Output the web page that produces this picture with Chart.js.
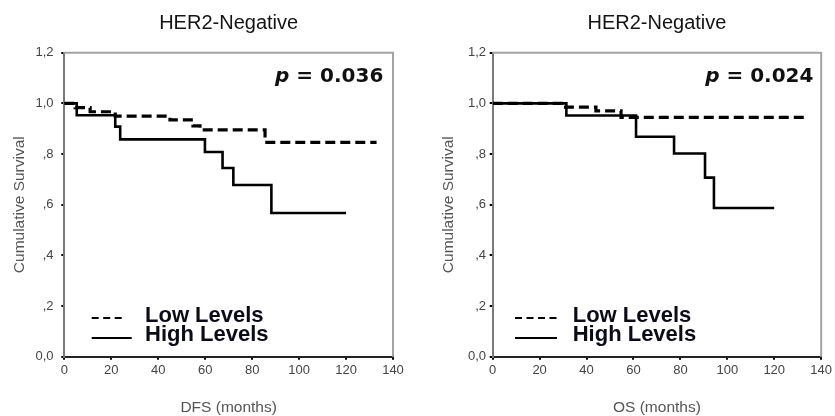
<!DOCTYPE html>
<html><head><meta charset="utf-8">
<script src="https://cdn.jsdelivr.net/npm/chart.js@4/dist/chart.umd.min.js"></script>
<style>
html,body{margin:0;padding:0;background:#fff;}
#wrap{position:relative;width:835px;height:416px;overflow:hidden;background:#fff;}
canvas{position:absolute;top:0;}
</style></head><body>
<div id="wrap">
<canvas id="c1" width="418" height="416" style="left:0px"></canvas>
<canvas id="c2" width="417" height="416" style="left:418px"></canvas>
</div>
<script>
// ---- data ----
const chartTitles = ['HER2-Negative', 'HER2-Negative'];
const xAxisTitles = ['DFS (months)', 'OS (months)'];
const yAxisTitle = 'Cumulative Survival';
const seriesNames = ['Low Levels', 'High Levels'];
const pValues = ['0.036', '0.024'];
const yTickLabels = ['0,0', ',2', ',4', ',6', ',8', '1,0', '1,2'];

const dfsLowMonths   = [0, 4.6, 11, 21.7, 45, 54.8, 57.8, 85.5, 133];
const dfsLowSurvival = [1, 0.983, 0.967, 0.95, 0.935, 0.911, 0.895, 0.846, 0.846];
const dfsHighMonths   = [0, 5.3, 21.7, 23.8, 59.9, 67.4, 72, 88.2, 120];
const dfsHighSurvival = [1, 0.953, 0.908, 0.858, 0.808, 0.745, 0.678, 0.567, 0.567];

const osLowMonths   = [0, 29.3, 44, 54.7, 133];
const osLowSurvival = [1, 0.985, 0.97, 0.945, 0.945];
const osHighMonths   = [0, 31.4, 61.1, 77.3, 90.5, 94.3, 120];
const osHighSurvival = [1, 0.952, 0.868, 0.802, 0.707, 0.587, 0.587];

// ---- helpers ----
function pts(xs, ys) { return xs.map((x, i) => ({x: x, y: ys[i]})); }

const boxPlugin = {
  id: 'plotBox',
  beforeDatasetsDraw(chart) {
    const {ctx, chartArea: a} = chart;
    ctx.save();
    ctx.strokeStyle = '#a4a4a4';
    ctx.lineWidth = 2;
    ctx.beginPath();
    ctx.moveTo(a.left, a.top);
    ctx.lineTo(a.right, a.top);
    ctx.lineTo(a.right, a.bottom);
    ctx.stroke();
    ctx.restore();
  }
};

const annotPlugin = {
  id: 'annot',
  afterDraw(chart, args, o) {
    const {ctx, chartArea: a} = chart;
    ctx.save();
    // p-value
    ctx.fillStyle = '#111';
    ctx.textBaseline = 'alphabetic';
    const f1 = 'italic bold 20px "DejaVu Sans"';
    const f2 = 'bold 20px "DejaVu Sans"';
    const rest = ' = ' + o.p;
    ctx.font = f2; const w2 = ctx.measureText(rest).width;
    ctx.font = f1; const w1 = ctx.measureText('p').width;
    const xr = a.right - o.pGap;
    ctx.font = f1; ctx.fillText('p', xr - w2 - w1, 81.7);
    ctx.font = f2; ctx.fillText(rest, xr - w2, 81.7);
    // legend
    const ds = chart.data.datasets;
    const bases = [322, 341];
    const lineYs = [318, 338];
    ds.forEach((d, i) => {
      ctx.strokeStyle = '#000';
      ctx.lineWidth = 2;
      ctx.setLineDash(d.borderDash && d.borderDash.length ? [7, 4.5] : []);
      ctx.beginPath();
      ctx.moveTo(a.left + o.lgX, lineYs[i]);
      ctx.lineTo(a.left + o.lgX + o.lgLen[i], lineYs[i]);
      ctx.stroke();
      ctx.setLineDash([]);
      ctx.fillStyle = '#0c0c18';
      ctx.font = 'bold 22px "Liberation Sans", Arial, sans-serif';
      ctx.fillText(d.label, a.left + o.lgText, bases[i]);
    });
    ctx.restore();
  }
};

function makeChart(id, lowX, lowY, highX, highY, idx, cfg) {
  return new Chart(document.getElementById(id), {
    type: 'line',
    data: {
      datasets: [
        {label: seriesNames[0], data: pts(lowX, lowY), stepped: 'before',
         borderColor: '#000', borderWidth: 3.2, borderDash: [10, 5], pointRadius: 0, fill: false},
        {label: seriesNames[1], data: pts(highX, highY), stepped: 'before',
         borderColor: '#000', borderWidth: 2.6, borderDash: [], pointRadius: 0, fill: false}
      ]
    },
    options: {
      responsive: false,
      animation: false,
      devicePixelRatio: 1,
      layout: {padding: {left: 0, right: cfg.padRight, top: 0, bottom: 0}},
      plugins: {
        legend: {display: false},
        tooltip: {enabled: false},
        title: {
          display: true, text: chartTitles[idx], fullSize: false,
          color: '#141414',
          font: {family: '"Liberation Sans", Arial, sans-serif', size: 20, weight: 'normal', lineHeight: 1.2},
          padding: {top: 11, bottom: 17.7}
        },
        annot: {p: pValues[idx], pGap: cfg.pGap, lgX: cfg.lgX, lgLen: cfg.lgLen, lgText: cfg.lgText}
      },
      scales: {
        x: {
          type: 'linear', min: 0, max: 140,
          afterFit(s) { s.height = 59.3; },
          ticks: {stepSize: 20, padding: 3, color: '#444',
                  font: {family: '"Liberation Sans", Arial, sans-serif', size: 13}},
          grid: {drawOnChartArea: false, drawTicks: true, tickLength: 3, color: '#000', lineWidth: 2},
          border: {display: true, color: '#222', width: 2},
          title: {display: true, text: xAxisTitles[idx], color: '#555',
                  font: {family: '"Liberation Sans", Arial, sans-serif', size: 15.5, lineHeight: 1},
                  padding: {top: 0, bottom: 0.3}}
        },
        y: {
          type: 'linear', min: 0, max: 1.2,
          afterFit(s) { s.width = cfg.yWidth; },
          afterBuildTicks(s) {
            s.ticks = yTickLabels.map((l, i) => ({value: Math.round(i * 2) / 10}));
          },
          ticks: {padding: cfg.tickPad, color: '#444',
                  font: {family: '"Liberation Sans", Arial, sans-serif', size: 13},
                  callback: (v, i) => yTickLabels[i]},
          grid: {drawOnChartArea: false, drawTicks: true, tickLength: 3, color: '#000', lineWidth: 2},
          border: {display: true, color: '#7a7a7a', width: 2},
          title: {display: true, text: yAxisTitle, color: '#555',
                  font: {family: '"Liberation Sans", Arial, sans-serif', size: 15.5, lineHeight: 1.2},
                  padding: {top: cfg.yTitlePad, bottom: 0}}
        }
      }
    },
    plugins: [boxPlugin, annotPlugin]
  });
}

Chart.defaults.devicePixelRatio = 1;
makeChart('c1', dfsLowMonths, dfsLowSurvival, dfsHighMonths, dfsHighSurvival, 0,
  {padRight: 25, yWidth: 64.3, tickPad: 7.8, yTitlePad: 10, pGap: 9.7,
   lgX: 27.4, lgLen: [30, 40], lgText: 80.7});
makeChart('c2', osLowMonths, osLowSurvival, osHighMonths, osHighSurvival, 1,
  {padRight: 12.3, yWidth: 74.7, tickPad: 3.7, yTitlePad: 21.5, pGap: 7.7,
   lgX: 22.3, lgLen: [43, 42], lgText: 80});
</script>
</body></html>
